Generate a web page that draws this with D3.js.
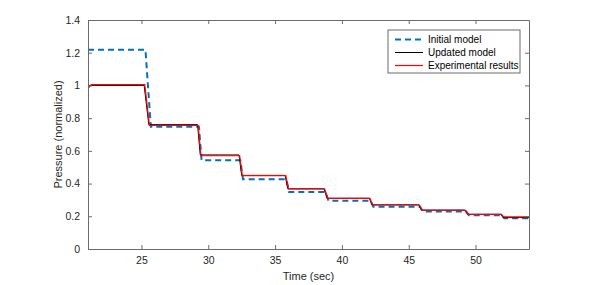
<!DOCTYPE html>
<html>
<head>
<meta charset="utf-8">
<script src="https://cdn.jsdelivr.net/npm/d3@7"></script>
<style>
  body { margin: 0; background: #fff; }
  svg { display: block; font-family: "Liberation Sans", Arial, Helvetica, sans-serif; }
</style>
</head>
<body>
<div id="chart"></div>
<script>
// series (time in sec, normalized pressure)
const initTime = [21.0, 25.3, 25.7, 29.3, 29.5, 32.4, 32.6, 35.85, 36.05, 38.75, 39.0, 42.15, 42.35, 45.85, 46.05, 49.3, 49.5, 52.0, 52.15, 54.0]
const initPressure = [1.218, 1.218, 0.748, 0.748, 0.542, 0.542, 0.426, 0.426, 0.348, 0.348, 0.295, 0.295, 0.259, 0.259, 0.23, 0.23, 0.206, 0.206, 0.188, 0.188]

const updTime = [21.0, 25.2, 25.55, 29.2, 29.4, 32.3, 32.5, 35.75, 35.95, 38.65, 38.9, 42.05, 42.25, 45.75, 45.95, 49.2, 49.4, 51.9, 52.05, 54.0]
const updPressure = [1.0, 1.0, 0.76, 0.76, 0.575, 0.575, 0.45, 0.45, 0.368, 0.368, 0.31, 0.31, 0.27, 0.27, 0.238, 0.238, 0.212, 0.212, 0.192, 0.192]

const expTime = [21.0, 21.25, 25.25, 25.6, 29.25, 29.45, 32.35, 32.55, 35.8, 36.0, 38.7, 38.95, 42.1, 42.3, 45.8, 46.0, 49.25, 49.45, 51.95, 52.1, 54.0]
const expPressure = [0.98, 1.005, 1.005, 0.755, 0.755, 0.57, 0.57, 0.448, 0.448, 0.367, 0.367, 0.31, 0.31, 0.269, 0.269, 0.237, 0.237, 0.212, 0.212, 0.197, 0.197]

const xTicks = [25, 30, 35, 40, 45, 50]
const yTicks = [0, 0.2, 0.4, 0.6, 0.8, 1, 1.2, 1.4]
const legendLabels = ['Initial model', 'Updated model', 'Experimental results']

const width = 598
const height = 285
const margin = { left: 88, top: 20, right: 69, bottom: 36 }
const axisColor = '#262626'

const svg = d3.select('#chart')
  .append('svg')
  .attr('width', width)
  .attr('height', height)

const x = d3.scaleLinear().domain([21, 54]).range([margin.left, width - margin.right])
const y = d3.scaleLinear().domain([0, 1.4]).range([height - margin.bottom, margin.top])

svg.append('defs').append('clipPath')
  .attr('id', 'plotClip')
  .append('rect')
  .attr('x', margin.left)
  .attr('y', margin.top)
  .attr('width', width - margin.left - margin.right)
  .attr('height', height - margin.top - margin.bottom)

const line = d3.line().x(d => x(d[0])).y(d => y(d[1]))
const zip = (t, p) => t.map((v, i) => [v, p[i]])

const series = [
  { data: zip(initTime, initPressure), color: '#0072bd', width: 2, dash: '6,4' },
  { data: zip(updTime, updPressure), color: '#000000', width: 1, dash: null },
  { data: zip(expTime, expPressure), color: '#ff0000', width: 1.2, dash: null }
]

const plot = svg.append('g').attr('clip-path', 'url(#plotClip)')
plot.selectAll('path')
  .data(series)
  .enter()
  .append('path')
  .attr('d', d => line(d.data))
  .attr('fill', 'none')
  .attr('stroke', d => d.color)
  .attr('stroke-width', d => d.width)
  .attr('stroke-dasharray', d => d.dash)

// axes: inner ticks on all four sides, MATLAB style box
const tickLen = 4
const xAxisB = d3.axisBottom(x).tickValues(xTicks).tickSizeInner(-tickLen).tickSizeOuter(0).tickPadding(8)
const xAxisT = d3.axisTop(x).tickValues(xTicks).tickSizeInner(-tickLen).tickSizeOuter(0).tickFormat('')
const yAxisL = d3.axisLeft(y).tickValues(yTicks).tickSizeInner(-tickLen).tickSizeOuter(0).tickPadding(8).tickFormat(d3.format('~g'))
const yAxisR = d3.axisRight(y).tickValues(yTicks).tickSizeInner(-tickLen).tickSizeOuter(0).tickFormat('')

const axes = [
  svg.append('g').attr('transform', `translate(0,${height - margin.bottom})`).call(xAxisB),
  svg.append('g').attr('transform', `translate(0,${margin.top})`).call(xAxisT),
  svg.append('g').attr('transform', `translate(${margin.left},0)`).call(yAxisL),
  svg.append('g').attr('transform', `translate(${width - margin.right},0)`).call(yAxisR)
]
axes.forEach(g => {
  g.select('.domain').attr('stroke', '#6b6b6b').attr('stroke-width', 1)
  g.selectAll('.tick line').attr('stroke', '#6b6b6b')
  g.selectAll('.tick text').attr('fill', axisColor).style('font-size', '10.5px')
})

svg.append('text')
  .attr('x', (margin.left + width - margin.right) / 2)
  .attr('y', height - 5)
  .attr('text-anchor', 'middle')
  .attr('fill', axisColor)
  .style('font-size', '11px')
  .text('Time (sec)')

svg.append('text')
  .attr('transform', `translate(62,${(margin.top + height - margin.bottom) / 2}) rotate(-90)`)
  .attr('text-anchor', 'middle')
  .attr('fill', axisColor)
  .style('font-size', '11px')
  .text('Pressure (normalized)')

// legend
const legend = svg.append('g').attr('transform', 'translate(388,30)')
legend.append('rect')
  .attr('width', 132)
  .attr('height', 43)
  .attr('fill', '#fff')
  .attr('stroke', '#6b6b6b')
  .attr('stroke-width', 1)

const item = legend.selectAll('g.item')
  .data(series)
  .enter()
  .append('g')
  .attr('class', 'item')
  .attr('transform', (d, i) => `translate(0,${9.5 + i * 13})`)

item.append('line')
  .attr('x1', 7).attr('x2', 35)
  .attr('stroke', d => d.color)
  .attr('stroke-width', d => d.width)
  .attr('stroke-dasharray', d => d.dash)

item.append('text')
  .attr('x', 40)
  .attr('dy', '0.35em')
  .attr('fill', '#000')
  .style('font-size', '10px')
  .text((d, i) => legendLabels[i])
</script>
</body>
</html>
